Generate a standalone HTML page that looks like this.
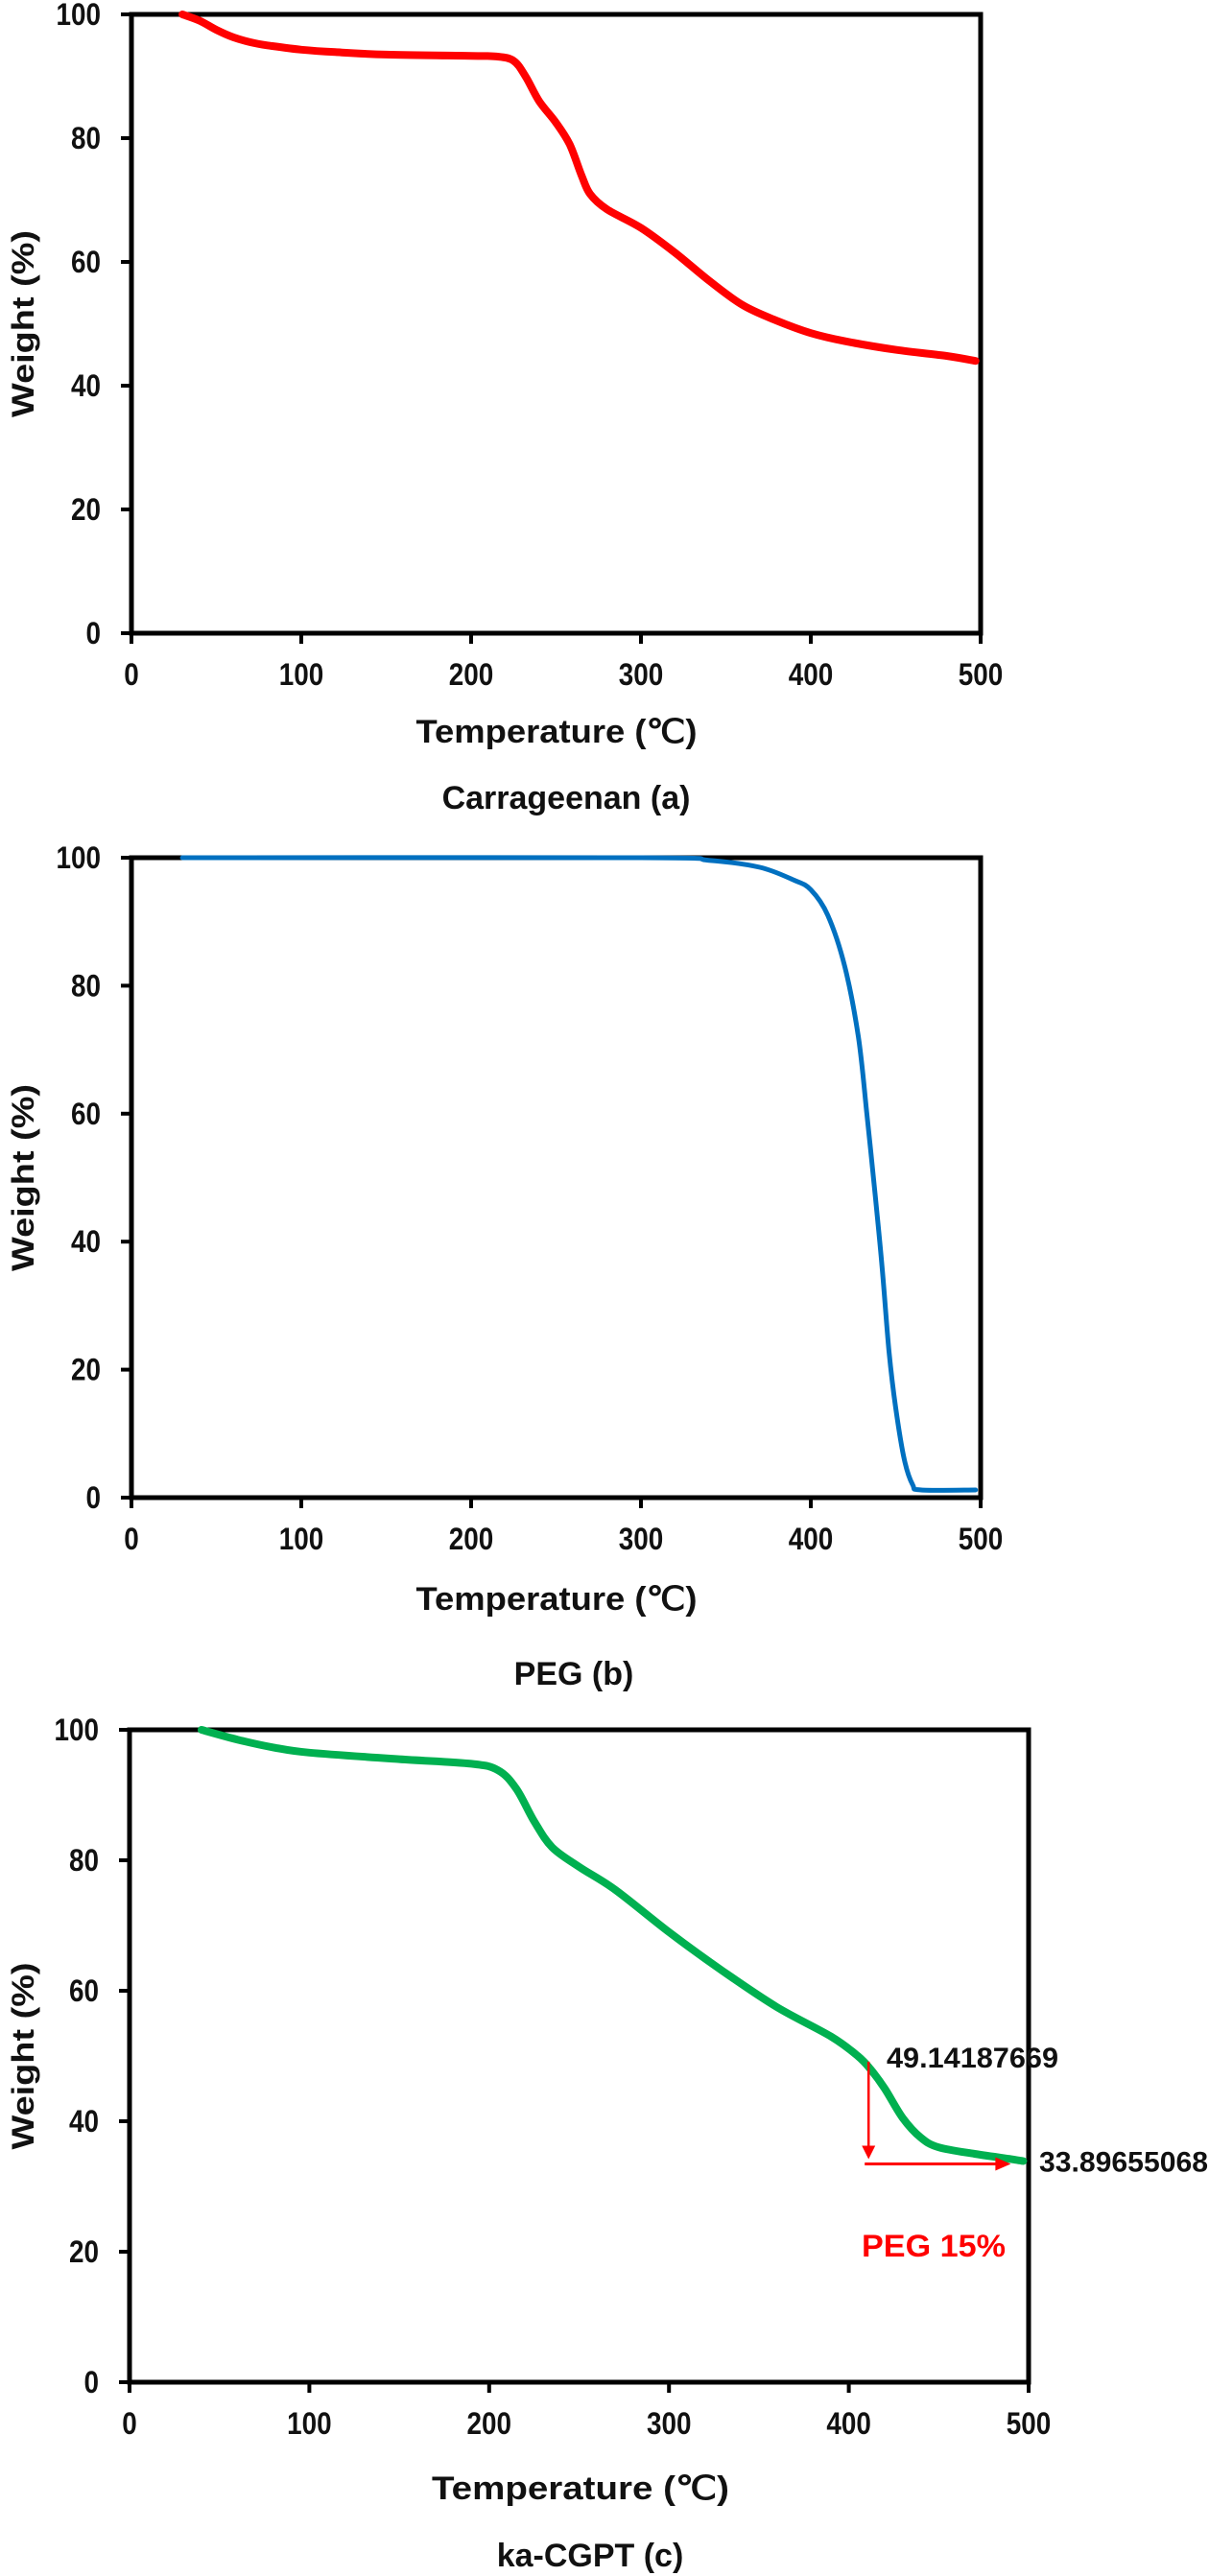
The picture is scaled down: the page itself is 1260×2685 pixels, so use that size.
<!DOCTYPE html>
<html><head><meta charset="utf-8"><style>
html,body{margin:0;padding:0;background:#fff;}
svg{display:block;font-family:"Liberation Sans",Arial,sans-serif;font-weight:bold;}
</style></head>
<body>
<svg id="fig" width="1260" height="2685" viewBox="0 0 1260 2685" xmlns="http://www.w3.org/2000/svg"></svg>
<script>
// Data arrays
const xTicks = [0,100,200,300,400,500];
const yTicks = [0,20,40,60,80,100];
const carrT = [30,40,50,60,70,80,100,120,150,200,215,225,232,240,250,258,265,270,280,300,320,340,360,380,400,420,450,480,497];
const carrW = [100,99,97.5,96.3,95.5,95,94.3,93.9,93.5,93.3,93.2,92.5,90,86,82.5,79,74,71,68.5,65.5,61.5,57,53,50.5,48.5,47.2,45.8,44.8,44];
const pegT = [30,300,340,370,390,400,410,420,428,433,438,442,446,450,455,460,465,497];
const pegW = [100,100,99.6,98.5,96.5,95,91,83,72,60,47,36,23,14,6,2,1.2,1.2];
const cgptT = [40,60,80,100,150,190,205,215,225,235,250,270,300,330,360,390,405,412,420,430,440,450,470,490,497];
const cgptW = [100,98.5,97.3,96.5,95.5,94.8,93.8,91,86,82,79,75.5,69,63,57.5,53,50,48,45,40.5,37.5,36,35,34.2,33.9];
const annotHigh = 49.14187669;
const annotLow = 33.89655068;
const annotT = 411;
const annotEndT = 489;

const NS='http://www.w3.org/2000/svg';
const svg=document.getElementById('fig');
function mk(tag,attrs,parent){const e=document.createElementNS(NS,tag);for(const k in attrs)e.setAttribute(k,attrs[k]);(parent||svg).appendChild(e);return e;}

function smoothPath(pts){
  let d='M'+pts[0][0].toFixed(1)+','+pts[0][1].toFixed(1);
  for(let i=0;i<pts.length-1;i++){
    const p0=pts[i-1]||pts[i],p1=pts[i],p2=pts[i+1],p3=pts[i+2]||p2;
    const c1=[p1[0]+(p2[0]-p0[0])/6,p1[1]+(p2[1]-p0[1])/6];
    const c2=[p2[0]-(p3[0]-p1[0])/6,p2[1]-(p3[1]-p1[1])/6];
    d+=` C${c1[0].toFixed(1)},${c1[1].toFixed(1)} ${c2[0].toFixed(1)},${c2[1].toFixed(1)} ${p2[0].toFixed(1)},${p2[1].toFixed(1)}`;
  }
  return d;
}

function panel(cfg){
  const g=mk('g',{});
  
  
  const sx=v=>cfg.x0+(cfg.x1-cfg.x0)*v/500;
  const sy=v=>cfg.y1-(cfg.y1-cfg.y0)*v/100;
  const fr=mk('rect',{x:cfg.x0,y:cfg.y0,width:cfg.x1-cfg.x0,height:cfg.y1-cfg.y0,fill:'none',stroke:'#000','stroke-width':5},g);
  
  
  xTicks.forEach(t=>{
    const l=mk('line',{x1:sx(t),x2:sx(t),y1:cfg.y1,y2:cfg.y1+11,stroke:'#000','stroke-width':4},g);
    
    
    const s=String(t);
    const tx=mk('text',{x:sx(t),y:cfg.y1+54,'text-anchor':'middle','font-size':32,fill:'#111',textLength:s.length*15.5,lengthAdjust:'spacingAndGlyphs'},g);
    tx.textContent=s;
    
    
  });
  yTicks.forEach(t=>{
    const l=mk('line',{x1:cfg.x0-11,x2:cfg.x0,y1:sy(t),y2:sy(t),stroke:'#000','stroke-width':4},g);
    
    
    const s=String(t);
    const tx=mk('text',{x:cfg.x0-32,y:sy(t)+11,'text-anchor':'end','font-size':32,fill:'#111',textLength:s.length*15.5,lengthAdjust:'spacingAndGlyphs'},g);
    tx.textContent=s;
    
    
  });
  const cy=(cfg.y0+cfg.y1)/2;
  const yt=mk('text',{x:0,y:0,transform:`translate(35,${cy}) rotate(-90)`,'text-anchor':'middle','font-size':32,fill:'#111',textLength:195,lengthAdjust:'spacingAndGlyphs'},g);
  yt.textContent='Weight  (%)';
  
  
  const xt=mk('text',{x:cfg.xlx,y:cfg.xly,'text-anchor':'middle','font-size':34,fill:'#111',textLength:cfg.xlw,lengthAdjust:'spacingAndGlyphs'},g);
  xt.textContent='Temperature  (℃)';
  
  
  const tt=mk('text',{x:cfg.tx,y:cfg.ty,'text-anchor':'middle','font-size':34,fill:'#111'},g);
  tt.textContent=cfg.title;
  
  
  const pts=cfg.T.map((t,i)=>[sx(t),sy(cfg.W[i])]);
  const p=mk('path',{d:smoothPath(pts),fill:'none',stroke:cfg.color,'stroke-width':cfg.lw,'stroke-linejoin':'round','stroke-linecap':'round'},g);
  
  
  return {g,sx,sy};
}

panel({name:'panel-carrageenan',x0:137,x1:1022,y0:15,y1:660,T:carrT,W:carrW,color:'#ff0000',lw:8,series:'carrageenan-curve',
  title:'Carrageenan (a)',tx:590,ty:843,xlx:580,xly:774,xlw:293});
panel({name:'panel-peg',x0:137,x1:1022,y0:894,y1:1561,T:pegT,W:pegW,color:'#0070c0',lw:5,series:'peg-curve',
  title:'PEG (b)',tx:598,ty:1756,xlx:580,xly:1678,xlw:293});
const pc=panel({name:'panel-ka-cgpt',x0:135,x1:1072,y0:1803,y1:2483,T:cgptT,W:cgptW,color:'#00b050',lw:8,series:'ka-cgpt-curve',
  title:'ka-CGPT (c)',tx:615,ty:2675,xlx:605,xly:2605,xlw:310});

const ag=pc.g;
const vx=pc.sx(annotT);
const va=mk('line',{x1:vx,x2:vx,y1:pc.sy(annotHigh),y2:pc.sy(annotLow)-14,stroke:'#ff0000','stroke-width':2.5},ag);


const vh=mk('polygon',{points:`${vx-7},${pc.sy(annotLow)-16} ${vx+7},${pc.sy(annotLow)-16} ${vx},${pc.sy(annotLow)-2}`,fill:'#ff0000'},ag);


const hy=pc.sy(annotLow)+3;
const ha=mk('line',{x1:vx-4,x2:pc.sx(annotEndT)-12,y1:hy,y2:hy,stroke:'#ff0000','stroke-width':3},ag);


const hh=mk('polygon',{points:`${pc.sx(annotEndT)-14},${hy-7} ${pc.sx(annotEndT)-14},${hy+7} ${pc.sx(annotEndT)+2},${hy}`,fill:'#ff0000'},ag);


const l1=mk('text',{x:924,y:pc.sy(annotHigh)+6,'font-size':30,fill:'#111',textLength:179,lengthAdjust:'spacingAndGlyphs'},ag);
l1.textContent=String(annotHigh);


const l2=mk('text',{x:1083,y:pc.sy(annotLow)+11,'font-size':30,fill:'#111',textLength:176,lengthAdjust:'spacingAndGlyphs'},ag);
l2.textContent=String(annotLow);


const l3=mk('text',{x:898,y:2352,'font-size':32,fill:'#ff0000',textLength:150,lengthAdjust:'spacingAndGlyphs'},ag);
l3.textContent='PEG 15%';


</script>
</body></html>
